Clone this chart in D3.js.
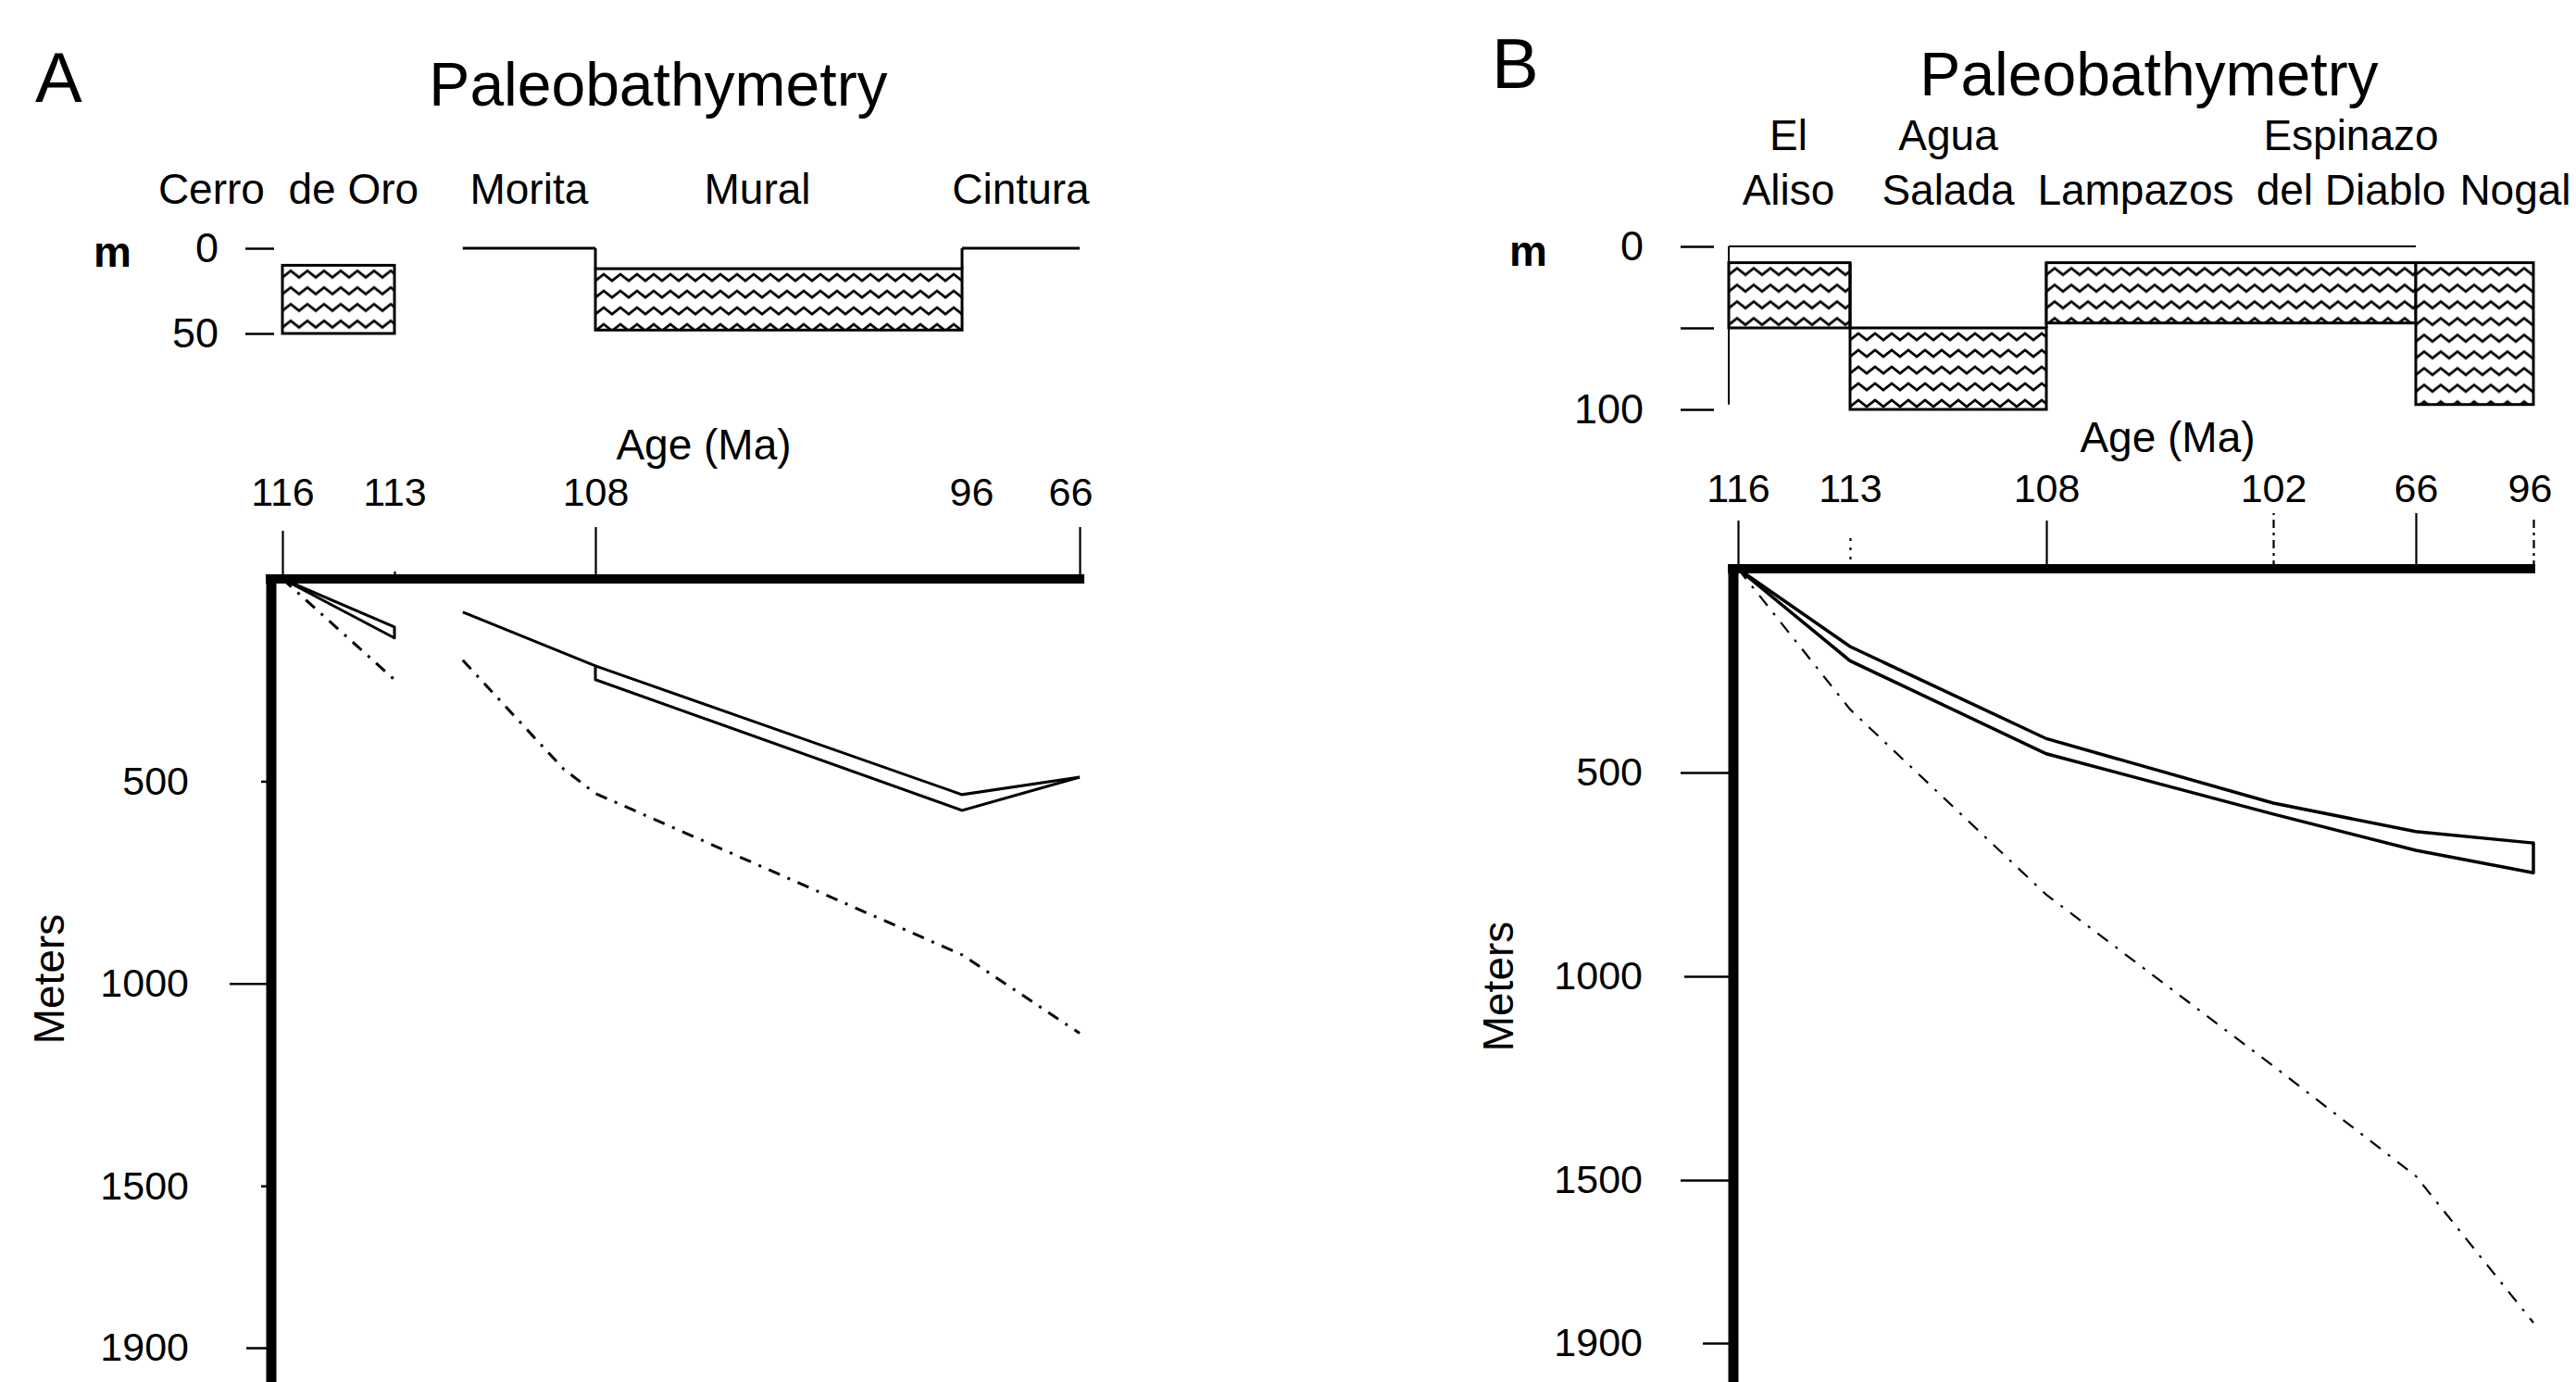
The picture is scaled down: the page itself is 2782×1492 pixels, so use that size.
<!DOCTYPE html>
<html>
<head>
<meta charset="utf-8">
<script src="https://cdn.jsdelivr.net/npm/d3@7"></script>
<style>
  body { margin: 0; background: #fff; }
  svg { display: block; font-family: "Liberation Sans", Arial, Helvetica, sans-serif; }
</style>
</head>
<body>
<div id="chart"></div>
<script>
/** Data **/
// age axis ticks, in the order they are printed on each panel
const agesA = [116, 113, 108, 96, 66];
const agesB = [116, 113, 108, 102, 66, 96];
const depthTicks = [500, 1000, 1500, 1900];

const formationsA = [
	{ lines: ["Cerro  de Oro"], from: 116, to: 113 },
	{ lines: ["Morita"], from: 111.3, to: 108 },
	{ lines: ["Mural"], from: 108, to: 96 },
	{ lines: ["Cintura"], from: 96, to: 66 }
];
const formationsB = [
	{ lines: ["El", "Aliso"], from: 116, to: 113 },
	{ lines: ["Agua", "Salada"], from: 113, to: 108 },
	{ lines: ["", "Lampazos"], from: 108, to: 102 },
	{ lines: ["Espinazo", "del Diablo"], from: 102, to: 66 },
	{ lines: ["", "Nogal"], from: 66, to: 96 }
];

// paleobathymetry (m): water depth range of each interval
const bathyA = [
	{ from: 116, to: 113, top: 10, bottom: 50 },
	{ from: 111.3, to: 108, top: 0, bottom: 0 },
	{ from: 108, to: 96, top: 12, bottom: 48 },
	{ from: 96, to: 66, top: 0, bottom: 0 }
];
const bathyB = [
	{ from: 116, to: 113, top: 10, bottom: 50 },
	{ from: 113, to: 108, top: 50, bottom: 100 },
	{ from: 108, to: 66, top: 10, bottom: 47 },
	{ from: 66, to: 96, top: 10, bottom: 97 }
];
const insetTicksA = [0, 50];
const insetTicksB = [0, 50, 100];
const insetLabelsB = [0, 100];
const seaLevelB = { from: 116, to: 66, depth: 97 };

// total subsidence band (upper / lower curve), m
const totalA = [
	[{ age: 116, top: 0, bottom: 0 }, { age: 113, top: 119, bottom: 146 }],
	[{ age: 111.3, top: 82, bottom: null }, { age: 108, top: 215, bottom: 249 },
	 { age: 96, top: 533, bottom: 572 }, { age: 66, top: 490, bottom: 490 }]
];
const totalB = [
	[{ age: 116, top: 0, bottom: 0 }, { age: 113, top: 191, bottom: 226 },
	 { age: 108, top: 417, bottom: 454 }, { age: 102, top: 575, bottom: 602 },
	 { age: 66, top: 645, bottom: 691 }, { age: 96, top: 673, bottom: 746 }]
];

// dash-dot curve, m
const dashedA = [
	[{ age: 116, depth: 0 }, { age: 113, depth: 249 }],
	[{ age: 111.3, depth: 201 }, { age: 108.8, depth: 469 }, { age: 108, depth: 530 },
	 { age: 96, depth: 929 }, { age: 66, depth: 1123 }]
];
const dashedB = [
	[{ age: 116, depth: 0 }, { age: 113, depth: 345 }, { age: 108, depth: 800 },
	 { age: 102, depth: 1220 }, { age: 66, depth: 1490 }, { age: 96, depth: 1850 }]
];

/** Layout **/
var W = 2782, H = 1492;

var layoutA = {
	letter: "A", letterPos: [38, 110], titlePos: [711, 114],
	tickX: [305, 426, 643, 1039, 1166],
	axisY: 625, yBottom: 1455, axisX: 293, axisEnd: 1171,
	tickLen: { 116: 52, 113: 8, 108: 56, 96: 0, 66: 56 }, tickDash: {},
	tickLabelDx: { 96: 10, 66: -10 },
	tickPad: 27, ageTitle: [760, 496],
	depthTickLen: { 500: 6, 1000: 40, 1500: 6, 1900: 22 }, depthLabelOffset: 84,
	metersPos: [69, 1057],
	inset: { y0: 268, max: 50, yMax: 360, axisX: 296, tickSize: 31, pad: 29, mPos: [101, 288] },
	labelBaselines: [220],
	labelNudge: { "Cerro  de Oro": -54, "Mural": -23 },
	totalWidth: 3, dashWidth: 3, dash: "13 9 3 9"
};
var layoutB = {
	letter: "B", letterPos: [1611, 95], titlePos: [2321, 103],
	tickX: [1877, 1998, 2210, 2455, 2609, 2736],
	axisY: 614, yBottom: 1450, axisX: 1872, axisEnd: 2738,
	tickLen: { 116: 52, 113: 34, 108: 52, 102: 60, 66: 60, 96: 54 },
	tickDash: { 113: "3 7", 102: "9 5 3 5", 96: "9 5 3 5" },
	tickLabelDx: { 96: -4 },
	tickPad: 20, ageTitle: [2341, 488],
	depthTickLen: { 500: 52, 1000: 48, 1500: 52, 1900: 28 }, depthLabelOffset: 93,
	metersPos: [1634, 1065],
	inset: { y0: 266, max: 100, yMax: 442, axisX: 1851, tickSize: 36, pad: 40, mPos: [1630, 287] },
	labelBaselines: [162, 221],
	labelNudge: { "Aliso": -6, "Lampazos": -26, "del Diablo": 7, "Nogal": 44 },
	totalWidth: 3.5, dashWidth: 2.2, dash: "14 10 3 10"
};

var svg = d3.select("#chart").append("svg")
	.attr("width", W)
	.attr("height", H);
svg.append("rect").attr("width", W).attr("height", H).attr("fill", "#fff");
var defs = svg.append("defs");
var patternCount = 0;

// fractional position of an age among the printed ticks
function ageIndex(ages, a){
	var i = ages.indexOf(a);
	if (i >= 0) return i;
	for (var k = 0; k < ages.length - 1; k++) {
		var lo = ages[k], hi = ages[k + 1];
		if ((a - lo) * (a - hi) < 0) return k + (a - lo) / (hi - lo);
	}
	return NaN;
}

// wavy "water" fill, one zigzag row every 18px
function wavePattern(x, y){
	var id = "wave" + (patternCount++);
	var p = defs.append("pattern")
		.attr("id", id)
		.attr("patternUnits", "userSpaceOnUse")
		.attr("width", 18).attr("height", 18)
		.attr("patternTransform", "translate(" + x + "," + y + ")");
	p.append("rect").attr("width", 18).attr("height", 18).attr("fill", "#fff");
	p.append("path")
		.attr("d", "M-1,12.5 L0,13 L9,6 L18,13 L19,12.5")
		.attr("fill", "none").attr("stroke", "#000").attr("stroke-width", 2.8);
	return "url(#" + id + ")";
}

function drawPanel(ages, formations, bathy, insetTicks, insetLabels, total, dashed, L, seaLevel){
	var g = svg.append("g");
	var xi = d3.scaleLinear().domain(d3.range(ages.length)).range(L.tickX);
	var xAge = function(a){ return xi(ageIndex(ages, a)); };
	var y = d3.scaleLinear().domain([0, 1900]).range([L.axisY, L.yBottom]);
	var yIn = d3.scaleLinear().domain([0, L.inset.max]).range([L.inset.y0, L.inset.yMax]);

	/** headings **/
	g.append("text").attr("x", L.letterPos[0]).attr("y", L.letterPos[1])
		.attr("font-size", 76).text(L.letter);
	g.append("text").attr("x", L.titlePos[0]).attr("y", L.titlePos[1])
		.attr("text-anchor", "middle").attr("font-size", 66).text("Paleobathymetry");

	/** paleobathymetry inset **/
	g.append("text").attr("x", L.inset.mPos[0]).attr("y", L.inset.mPos[1])
		.attr("font-size", 46).attr("font-weight", "bold").text("m");

	var insetAxis = g.append("g")
		.attr("transform", "translate(" + L.inset.axisX + ",0)")
		.call(d3.axisLeft(yIn).tickValues(insetTicks)
			.tickSize(L.inset.tickSize).tickPadding(L.inset.pad)
			.tickFormat(function(d){ return (!insetLabels || insetLabels.indexOf(d) >= 0) ? d : ""; }));
	insetAxis.select(".domain").remove();
	insetAxis.attr("font-family", null).attr("font-size", 45);
	insetAxis.selectAll("line").attr("stroke-width", 2.5);

	if (seaLevel) {
		g.append("line")
			.attr("x1", xAge(seaLevel.from) - 10).attr("x2", xAge(seaLevel.to))
			.attr("y1", yIn(0)).attr("y2", yIn(0))
			.attr("stroke", "#000").attr("stroke-width", 2);
		g.append("line")
			.attr("x1", xAge(seaLevel.from) - 10).attr("x2", xAge(seaLevel.from) - 10)
			.attr("y1", yIn(0)).attr("y2", yIn(seaLevel.depth))
			.attr("stroke", "#000").attr("stroke-width", 2);
	}

	bathy.forEach(function(d, i){
		var x0 = Math.min(xAge(d.from), xAge(d.to)) - (i === 0 && seaLevel ? 10 : 0);
		var x1 = Math.max(xAge(d.from), xAge(d.to));
		if (d.bottom > d.top) {
			g.append("rect")
				.attr("x", x0).attr("y", yIn(d.top))
				.attr("width", x1 - x0).attr("height", yIn(d.bottom) - yIn(d.top))
				.attr("fill", wavePattern(x0, yIn(d.top)))
				.attr("stroke", "#000").attr("stroke-width", 3);
		} else {
			g.append("line")
				.attr("x1", x0).attr("x2", x1)
				.attr("y1", yIn(d.top)).attr("y2", yIn(d.top))
				.attr("stroke", "#000").attr("stroke-width", 3);
		}
		var next = bathy[i + 1];
		if (next && next.from === d.to) {
			g.append("line")
				.attr("x1", xAge(d.to)).attr("x2", xAge(d.to))
				.attr("y1", yIn(d.top)).attr("y2", yIn(next.top))
				.attr("stroke", "#000").attr("stroke-width", 3);
		}
	});

	formations.forEach(function(f){
		var cx = (xAge(f.from) + xAge(f.to)) / 2 + (L.labelNudge[f.lines[f.lines.length - 1]] || 0);
		f.lines.forEach(function(line, j){
			var base = L.labelBaselines[L.labelBaselines.length - f.lines.length + j];
			g.append("text")
				.attr("x", cx).attr("y", base)
				.attr("text-anchor", "middle").attr("font-size", 46)
				.style("white-space", "pre")
				.text(line);
		});
	});

	/** age axis **/
	g.append("text").attr("x", L.ageTitle[0]).attr("y", L.ageTitle[1])
		.attr("text-anchor", "middle").attr("font-size", 46).text("Age (Ma)");

	var ageAxis = g.append("g")
		.attr("transform", "translate(0," + L.axisY + ")")
		.call(d3.axisTop(xi).tickValues(d3.range(ages.length))
			.tickFormat(function(i){ return ages[i]; })
			.tickSize(52).tickPadding(L.tickPad));
	ageAxis.select(".domain").remove();
	ageAxis.attr("font-family", null).attr("font-size", 43);
	ageAxis.selectAll(".tick line")
		.attr("y2", function(i){ return -L.tickLen[ages[i]]; })
		.attr("stroke-width", 2.2)
		.attr("stroke-dasharray", function(i){ return L.tickDash[ages[i]] || null; });
	ageAxis.selectAll(".tick text")
		.attr("x", function(i){ return L.tickLabelDx[ages[i]] || 0; });

	/** depth axis **/
	var depthAxis = g.append("g")
		.attr("transform", "translate(" + (L.axisX - 5) + ",0)")
		.call(d3.axisLeft(y).tickValues(depthTicks).tickSize(40).tickFormat(d3.format("d")));
	depthAxis.select(".domain").remove();
	depthAxis.attr("font-family", null).attr("font-size", 43);
	depthAxis.selectAll(".tick line")
		.attr("x2", function(d){ return -L.depthTickLen[d]; })
		.attr("stroke-width", 2.5);
	depthAxis.selectAll(".tick text").attr("x", -L.depthLabelOffset);

	g.append("text")
		.attr("transform", "translate(" + L.metersPos[0] + "," + L.metersPos[1] + ") rotate(-90)")
		.attr("text-anchor", "middle").attr("font-size", 46).text("Meters");

	// thick frame
	g.append("line")
		.attr("x1", L.axisX).attr("x2", L.axisX)
		.attr("y1", L.axisY - 5).attr("y2", H + 5)
		.attr("stroke", "#000").attr("stroke-width", 11);
	g.append("line")
		.attr("x1", L.axisX - 6).attr("x2", L.axisEnd)
		.attr("y1", L.axisY).attr("y2", L.axisY)
		.attr("stroke", "#000").attr("stroke-width", 10);

	/** subsidence curves **/
	var lineTop = d3.line().x(function(d){ return xAge(d.age); }).y(function(d){ return y(d.top); });
	var lineBottom = d3.line().x(function(d){ return xAge(d.age); }).y(function(d){ return y(d.bottom); });
	var lineDash = d3.line().x(function(d){ return xAge(d.age); }).y(function(d){ return y(d.depth); });

	total.forEach(function(seg){
		var lower = seg.filter(function(d){ return d.bottom !== null; });
		g.append("path").attr("d", lineTop(seg))
			.attr("fill", "none").attr("stroke", "#000").attr("stroke-width", L.totalWidth);
		g.append("path").attr("d", lineBottom(lower))
			.attr("fill", "none").attr("stroke", "#000").attr("stroke-width", L.totalWidth);
		[lower[0], lower[lower.length - 1]].forEach(function(d){
			if (d.bottom !== d.top) {
				g.append("line")
					.attr("x1", xAge(d.age)).attr("x2", xAge(d.age))
					.attr("y1", y(d.top)).attr("y2", y(d.bottom))
					.attr("stroke", "#000").attr("stroke-width", L.totalWidth)
					.attr("stroke-linecap", "round");
			}
		});
	});

	dashed.forEach(function(seg){
		g.append("path").attr("d", lineDash(seg))
			.attr("fill", "none").attr("stroke", "#000")
			.attr("stroke-width", L.dashWidth)
			.attr("stroke-dasharray", L.dash);
	});
}

drawPanel(agesA, formationsA, bathyA, insetTicksA, null, totalA, dashedA, layoutA, null);
drawPanel(agesB, formationsB, bathyB, insetTicksB, insetLabelsB, totalB, dashedB, layoutB, seaLevelB);
</script>
</body>
</html>
